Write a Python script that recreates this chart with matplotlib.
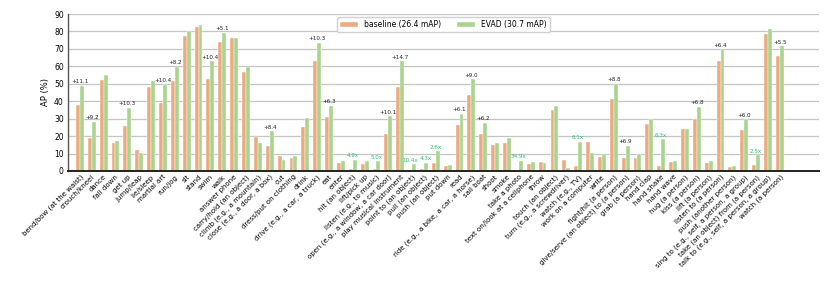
import numpy as np
import matplotlib
matplotlib.use("Agg")
import matplotlib.pyplot as plt

# AVA action classes, per-class AP (%)
categories = [
    "bend/bow (at the waist)", "crouch/kneel", "dance", "fall down", "get up",
    "jump/leap", "lie/sleep", "martial art", "run/jog", "sit", "stand", "swim",
    "walk", "answer phone", "carry/hold (an object)", "climb (e.g., a mountain)",
    "close (e.g., a door, a box)", "cut", "dress/put on clothing", "drink",
    "drive (e.g., a car, a truck)", "eat", "enter", "hit (an object)",
    "lift/pick up", "listen (e.g., to music)", "open (e.g., a window, a car door)",
    "play musical instrument", "point to (an object)", "pull (an object)",
    "push (an object)", "put down", "read", "ride (e.g., a bike, a car, a horse)",
    "sail boat", "shoot", "smoke", "take a photo", "text on/look at a cellphone",
    "throw", "touch (an object)", "turn (e.g., a screwdriver)", "watch (e.g., TV)",
    "work on a computer", "write", "fight/hit (a person)",
    "give/serve (an object) to (a person)", "grab (a person)", "hand clap",
    "hand shake", "hand wave", "hug (a person)", "kiss (a person)",
    "lift (a person)", "listen to (a person)", "push (another person)",
    "sing to (e.g., self, a person, a group)", "take (an object) from (a person)",
    "talk to (e.g., self, a person, a group)", "watch (a person)",
]

baseline = [
    37.6, 19.1, 52.2, 16.1, 25.8, 12.0, 48.0, 39.0, 51.6, 77.4, 82.6, 52.6,
    74.1, 76.2, 56.9, 19.7, 14.3, 8.4, 7.3, 25.2, 63.1, 31.1, 4.6, 1.3,
    3.8, 1.1, 21.2, 48.3, 0.37, 1.07, 4.4, 2.9, 26.6, 43.6, 21.4, 14.7,
    16.2, 0.16, 4.0, 5.0, 35.2, 6.3, 2.75, 16.4, 8.0, 41.1, 7.6, 7.6,
    27.1, 2.9, 5.0, 24.3, 30.0, 4.8, 63.3, 2.3, 23.7, 3.6, 78.3, 66.1,
]

evad = [
    48.7, 28.3, 55.0, 17.4, 36.1, 10.5, 51.4, 49.4, 59.8, 80.3, 83.9, 63.0,
    79.2, 76.3, 59.8, 16.2, 22.7, 6.1, 8.6, 30.2, 73.4, 37.4, 5.7, 6.3,
    5.9, 5.5, 31.3, 63.0, 3.85, 4.6, 11.4, 3.6, 32.7, 52.6, 27.6, 15.9,
    19.1, 5.7, 5.2, 4.4, 37.3, 1.7, 16.8, 10.5, 9.7, 49.9, 14.5, 9.7,
    30.0, 18.3, 5.7, 23.9, 36.8, 5.5, 69.7, 2.9, 29.7, 9.0, 81.6, 71.6,
]

# gain labels above selected classes ("+x" absolute, "Nx" relative)
notes = {
    0: "+11.1", 1: "+9.2", 4: "+10.3", 7: "+10.4", 8: "+8.2", 11: "+10.4",
    12: "+5.1", 16: "+8.4", 20: "+10.3", 21: "+6.3", 23: "4.9x", 25: "5.0x",
    26: "+10.1", 27: "+14.7", 28: "10.4x", 29: "4.3x", 30: "2.6x", 32: "+6.1",
    33: "+9.0", 34: "+6.2", 37: "34.9x", 42: "6.1x", 45: "+8.8", 46: "+6.9",
    49: "6.3x", 52: "+6.8", 54: "+6.4", 56: "+6.0", 57: "2.5x", 59: "+5.5",
}

C_BASE = "#EAAB80"
C_EVAD = "#A9D48E"

fig = plt.figure(figsize=(8.3, 3.02), dpi=100)
ax = fig.add_axes([68 / 830, 1 - 171 / 302, 751 / 830, 157 / 302])

x = np.arange(len(categories))
w = 0.33
ax.bar(x - w / 2, baseline, w, color=C_BASE, edgecolor="white",
       linewidth=0.3, label="baseline (26.4 mAP)", zorder=2)
ax.bar(x + w / 2, evad, w, color=C_EVAD, edgecolor="white",
       linewidth=0.3, label="EVAD (30.7 mAP)", zorder=2)

for i, txt in notes.items():
    col = "#2EBD6B" if txt.endswith("x") else "#222222"
    # the two neighbouring relative labels sit side by side in the original
    dx = {28: -0.15, 29: 0.2}.get(i, 0.0)
    ax.text(x[i] + dx, max(baseline[i], evad[i]) + 0.9, txt, ha="center",
            va="bottom", fontsize=4.1, color=col, zorder=3)

ax.set_xlim(-1.0, 62.3)
ax.set_ylim(0, 90)
ax.set_yticks(np.arange(0, 91, 10))
ax.set_xticks(x)
ax.set_xticklabels(categories, rotation=45, ha="right",
                   rotation_mode="anchor", fontsize=5)
ax.tick_params(axis="y", labelsize=5.5, length=0, pad=3)
ax.tick_params(axis="x", length=0, pad=2)
ax.set_ylabel("AP (%)", fontsize=6, labelpad=3)

ax.yaxis.grid(True, color="#C4C4C4", linewidth=0.9, zorder=0)
ax.set_axisbelow(True)
for s in ("top", "right"):
    ax.spines[s].set_visible(False)
ax.spines["left"].set_color("#555555")
ax.spines["left"].set_linewidth(1.0)
ax.spines["bottom"].set_color("#222222")
ax.spines["bottom"].set_linewidth(1.4)

ax.legend(loc="upper center", ncol=2, fontsize=5.5, frameon=True,
          edgecolor="#D0D0D0", framealpha=1.0, borderaxespad=0.4,
          handlelength=2.4, handleheight=0.8, columnspacing=2.0)

fig.savefig("out.png", dpi=100, facecolor="white")
